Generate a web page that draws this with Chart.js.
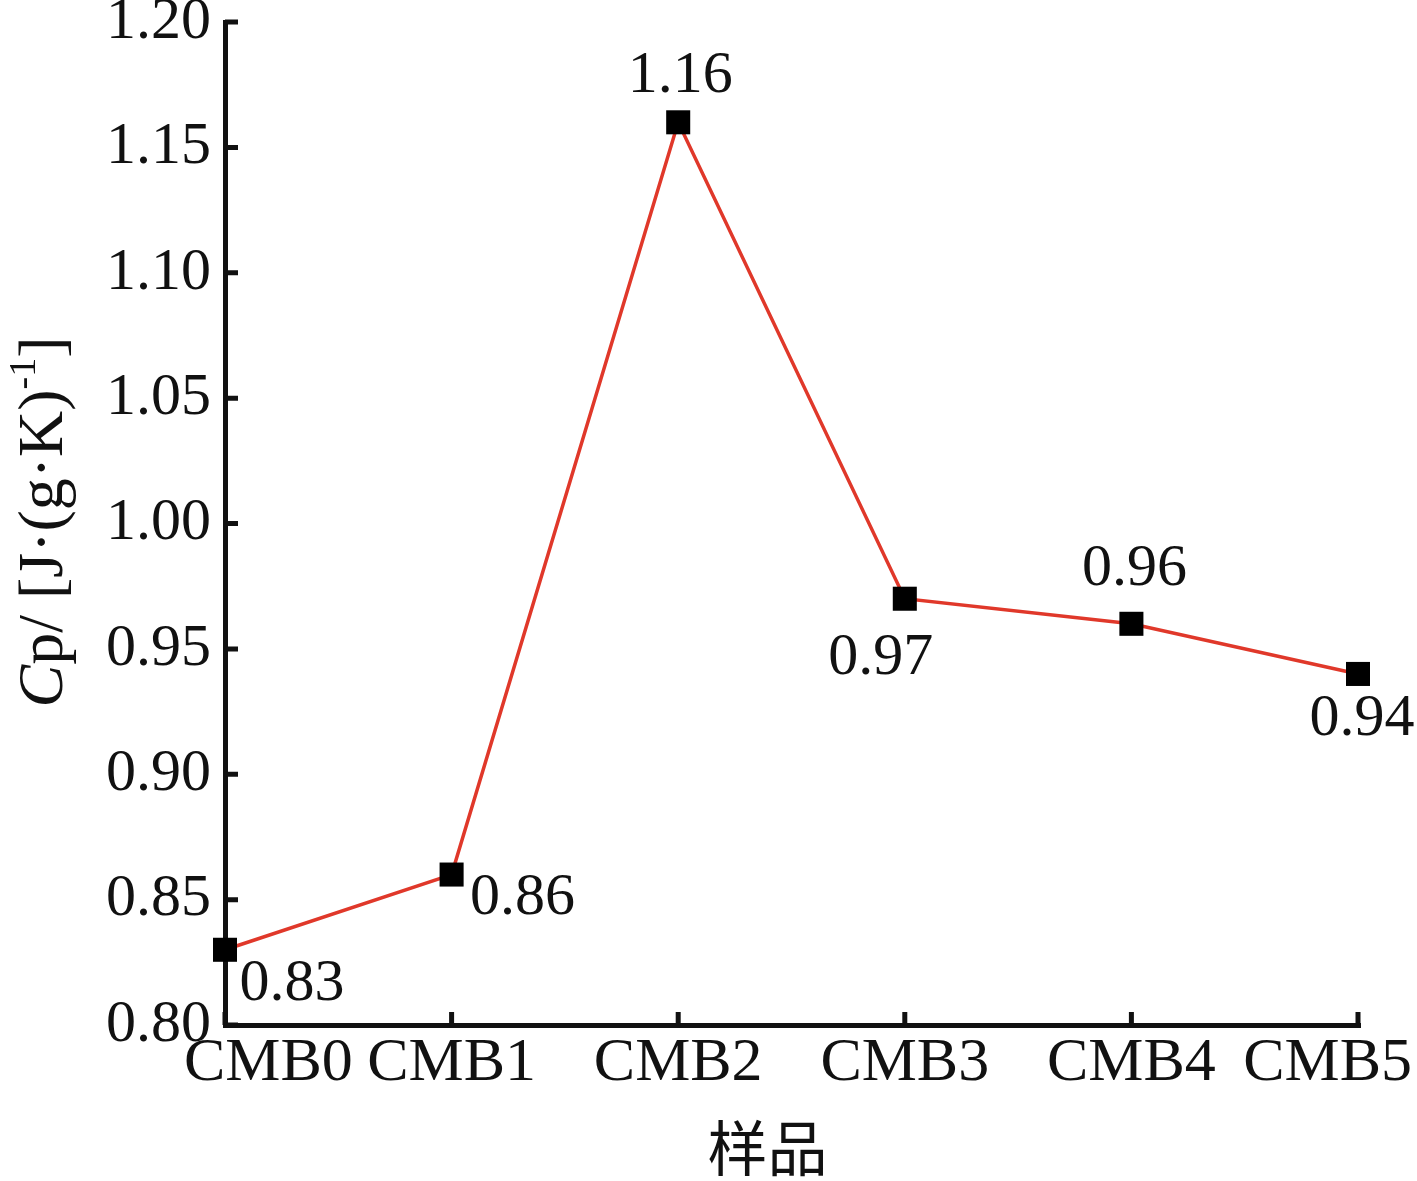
<!DOCTYPE html>
<html>
<head>
<meta charset="utf-8">
<script src="https://cdn.jsdelivr.net/npm/chart.js@4.4.1/dist/chart.umd.min.js"></script>
<style>
  html, body { margin: 0; padding: 0; background: #fff; }
</style>
</head>
<body>
<canvas id="linechart" width="1417" height="1181"></canvas>
<script>
// data
var samples = ["CMB0", "CMB1", "CMB2", "CMB3", "CMB4", "CMB5"];
var cpValues = [0.83, 0.86, 1.16, 0.97, 0.96, 0.94];
var yTicks = [0.80, 0.85, 0.90, 0.95, 1.00, 1.05, 1.10, 1.15, 1.20];
var xTitle = "样品";

var ink = "#111";
var lineRed = "#e0382a";
var serif = "'Liberation Serif', 'Times New Roman', serif";

// where each value label sits relative to its marker (dx, dy)
var labelPlace = [[67, 34], [71, 24], [2, -46], [-24, 60], [3, -55], [4, 45]];

var axisDecor = {
  id: 'axisDecor',
  beforeDatasetsDraw: function(chart) {
    var ctx = chart.ctx, area = chart.chartArea;
    var xs = chart.scales.x, ys = chart.scales.y;
    ctx.save();
    ctx.strokeStyle = ink;
    ctx.lineWidth = 5;
    ctx.beginPath();
    ys.ticks.forEach(function(t, i) {
      var y = ys.getPixelForTick(i);
      ctx.moveTo(area.left, y);
      ctx.lineTo(area.left + 13, y);
    });
    xs.ticks.forEach(function(t, i) {
      var x = xs.getPixelForTick(i);
      ctx.moveTo(x, area.bottom);
      ctx.lineTo(x, area.bottom - 13);
    });
    ctx.stroke();

    // category labels, kept inside the canvas
    ctx.fillStyle = ink;
    ctx.font = "62px " + serif;
    ctx.textAlign = "left";
    ctx.textBaseline = "middle";
    xs.ticks.forEach(function(t, i) {
      var x = xs.getPixelForTick(i);
      var txt = samples[i];
      var w = ctx.measureText(txt).width;
      var left = x - w / 2;
      left = Math.max(left, area.left - 41);
      left = Math.min(left, chart.width - 5 - w);
      ctx.fillText(txt, left, area.bottom + 39);
    });

    // x title
    ctx.font = "60px 'Noto Sans CJK SC', sans-serif";
    ctx.textAlign = "center";
    ctx.fillText(xTitle, (area.left + area.right) / 2 - 24, 1148);

    // y title: Cp/[J·(g·K)^-1]
    var size = 64;
    var parts = [
      { t: "C", f: "italic " + size + "px " + serif, dy: 0 },
      { t: "p/ ", f: size + "px " + serif, dy: 0 },
      { t: "[J·(g·K)", f: size + "px " + serif, dy: 0 },
      { t: "-1", f: Math.round(size * 0.6) + "px " + serif, dy: -size * 0.42 },
      { t: "]", f: size + "px " + serif, dy: 0 }
    ];
    var total = 0;
    parts.forEach(function(p) { ctx.font = p.f; p.w = ctx.measureText(p.t).width; total += p.w; });
    ctx.translate(62, 522);
    ctx.rotate(-Math.PI / 2);
    ctx.textAlign = "left";
    ctx.textBaseline = "alphabetic";
    var cx = -total / 2;
    parts.forEach(function(p) {
      ctx.font = p.f;
      ctx.fillText(p.t, cx, p.dy);
      cx += p.w;
    });
    ctx.restore();
  },
  afterDatasetsDraw: function(chart) {
    var ctx = chart.ctx;
    var pts = chart.getDatasetMeta(0).data;
    ctx.save();
    ctx.fillStyle = ink;
    ctx.font = "60px " + serif;
    ctx.textAlign = "center";
    ctx.textBaseline = "middle";
    pts.forEach(function(pt, i) {
      ctx.fillText(cpValues[i].toFixed(2), pt.x + labelPlace[i][0], pt.y + labelPlace[i][1]);
    });
    ctx.restore();
  }
};

var ctx = document.getElementById("linechart");
var myChart = new Chart(ctx, {
  type: 'line',
  data: {
    labels: samples,
    datasets: [{
      data: cpValues,
      borderColor: lineRed,
      borderWidth: 3.5,
      tension: 0,
      fill: false,
      clip: false,
      pointStyle: 'rect',
      pointRadius: 17,
      pointBackgroundColor: "#000",
      pointBorderColor: "#000",
      pointBorderWidth: 0
    }]
  },
  options: {
    responsive: false,
    animation: false,
    devicePixelRatio: 1,
    layout: { padding: { top: 22, right: 59, left: 0, bottom: 0 } },
    plugins: {
      legend: { display: false },
      tooltip: { enabled: false }
    },
    scales: {
      x: {
        offset: false,
        grid: { display: false, drawTicks: false, lineWidth: 5 },
        border: { display: true, color: ink, width: 5 },
        ticks: { display: false },
        afterFit: function(s) {
          s.height = 1181 - 1025;
          s.paddingLeft = 0;
          s.paddingRight = 0;
        }
      },
      y: {
        min: 0.80,
        max: 1.20,
        grid: { display: false, drawTicks: false, lineWidth: 5 },
        border: { display: true, color: ink, width: 5 },
        afterBuildTicks: function(s) {
          s.ticks = yTicks.map(function(v) { return { value: v }; });
        },
        ticks: {
          color: ink,
          padding: 14,
          font: { family: serif, size: 60 },
          callback: function(v) { return Number(v).toFixed(2); }
        },
        afterFit: function(s) {
          s.width = 225;
          s.paddingTop = 0;
          s.paddingBottom = 0;
        }
      }
    }
  },
  plugins: [axisDecor]
});
</script>
</body>
</html>
